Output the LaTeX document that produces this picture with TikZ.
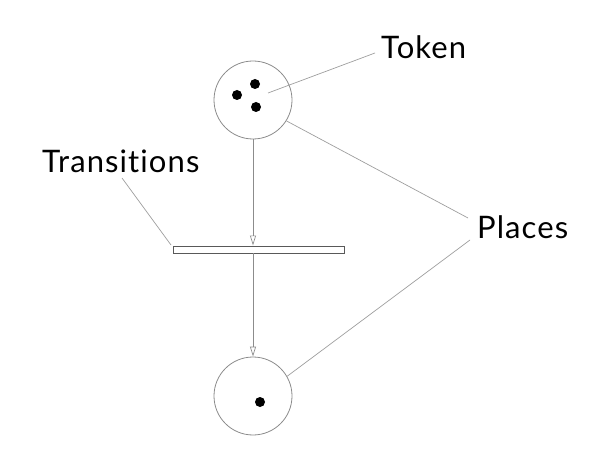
\documentclass[tikz,border=0pt]{standalone}
\usepackage{fontspec}
\setmainfont[Ligatures=NoCommon,LetterSpace=3.5]{Lato}
\usetikzlibrary{arrows.meta}
\begin{document}
\begin{tikzpicture}[x=1pt,y=-1pt,
  place/.style={circle,draw=black!45,line width=0.8pt,minimum size=78pt,inner sep=0pt},
  token/.style={circle,fill=black,minimum size=10pt,inner sep=0pt},
  lead/.style={draw=black!38,line width=0.7pt},
  arc/.style={draw=black!45,line width=0.7pt,-{Triangle[open,length=10pt,width=6pt]}},
  trans/.style={draw=black!65,line width=0.9pt,fill=white,minimum width=171pt,minimum height=7pt,inner sep=0pt},
  lbl/.style={inner sep=0pt,anchor=base west,font=\fontsize{31}{36}\selectfont}]
\useasboundingbox (0,0) rectangle (616,473);
\node[place] (p1) at (253,100) {};
\node[token] (t1) at (237,95) {};
\node[token] (t2) at (255,84) {};
\node[token] (t3) at (256,107) {};
\node[place] (p2) at (253,396) {};
\node[token] (t4) at (260,402) {};
\node[trans] (tr) at (258.5,249.5) {};
\node[lbl] (tok) at (381,59) {Token};
\node[lbl] (pl) at (477,239) {Places};
\node[lbl] (trl) at (42,173) {Transitions};
\coordinate (tokpt) at (268,93);
\coordinate (tokend) at (375,53);
\coordinate (pl1) at (468,218);
\coordinate (pl2) at (470,240);
\coordinate (trend) at (122,178);
\coordinate (trstart) at (171,245);
\draw[arc] (p1.south) -- (p1.south |- tr.north);
\draw[arc] (p1.south |- tr.south) -- (p2.north);
\draw[lead] (tokpt) -- (tokend);
\draw[lead] (p1.-32) -- (pl1);
\draw[lead] (p2.30) -- (pl2);
\draw[lead] (trend) -- (trstart);
\end{tikzpicture}
\end{document}
